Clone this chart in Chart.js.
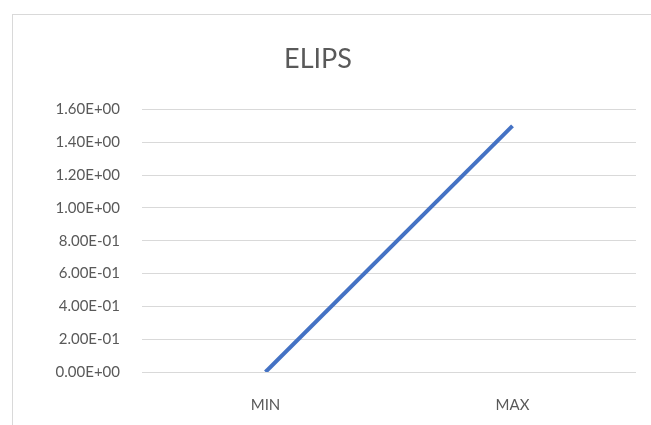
<!DOCTYPE html>
<html>
<head>
<meta charset="utf-8">
<script src="https://cdn.jsdelivr.net/npm/chart.js@4"></script>
<style>
html,body{margin:0;padding:0;background:#fff;}
#wrap{position:absolute;left:0;top:0;width:651px;height:425px;}
#frame{position:absolute;left:12px;top:14px;width:660px;height:430px;border:1px solid #d9d9d9;box-sizing:border-box;}
canvas{position:absolute;left:0;top:0;}
</style>
</head>
<body>
<div id="wrap">
<div id="frame"></div>
<canvas id="c" width="651" height="425"></canvas>
</div>
<script>
const categories = ["MIN", "MAX"];
const values = [0, 1.5];
const titleText = "ELIPS";
const yMin = 0, yMax = 1.6, yStep = 0.2;

new Chart(document.getElementById('c'), {
  type: 'line',
  data: {
    labels: categories,
    datasets: [{
      data: values,
      borderColor: '#4472C4',
      borderWidth: 4,
      pointRadius: 0,
      tension: 0,
      fill: false
    }]
  },
  options: {
    responsive: false,
    animation: false,
    layout: {padding: {left: 0, right: 15, top: 0, bottom: 0}},
    plugins: {
      legend: {display: false},
      tooltip: {enabled: false},
      title: {
        display: true,
        text: titleText,
        color: '#595959',
        font: {family: 'Lato', size: 27, weight: 'normal'},
        padding: {top: 43, bottom: 34}
      }
    },
    scales: {
      x: {
        offset: true,
        afterFit: s => { s.height = 53; },
        grid: {display: false, drawTicks: false},
        border: {display: false},
        ticks: {color: '#595959', font: {family: 'Lato', size: 15}, padding: 24}
      },
      y: {
        min: yMin, max: yMax,
        afterFit: s => { s.width = 142; },
        grid: {color: '#d9d9d9', lineWidth: 1, drawTicks: false},
        border: {display: false},
        ticks: {
          stepSize: yStep,
          color: '#595959',
          font: {family: 'Lato', size: 15},
          padding: 22,
          callback: v => Number(v).toExponential(2).replace(/e([+-])(\d)$/, 'E$10$2').toUpperCase()
        }
      }
    }
  }
});
</script>
</body>
</html>
